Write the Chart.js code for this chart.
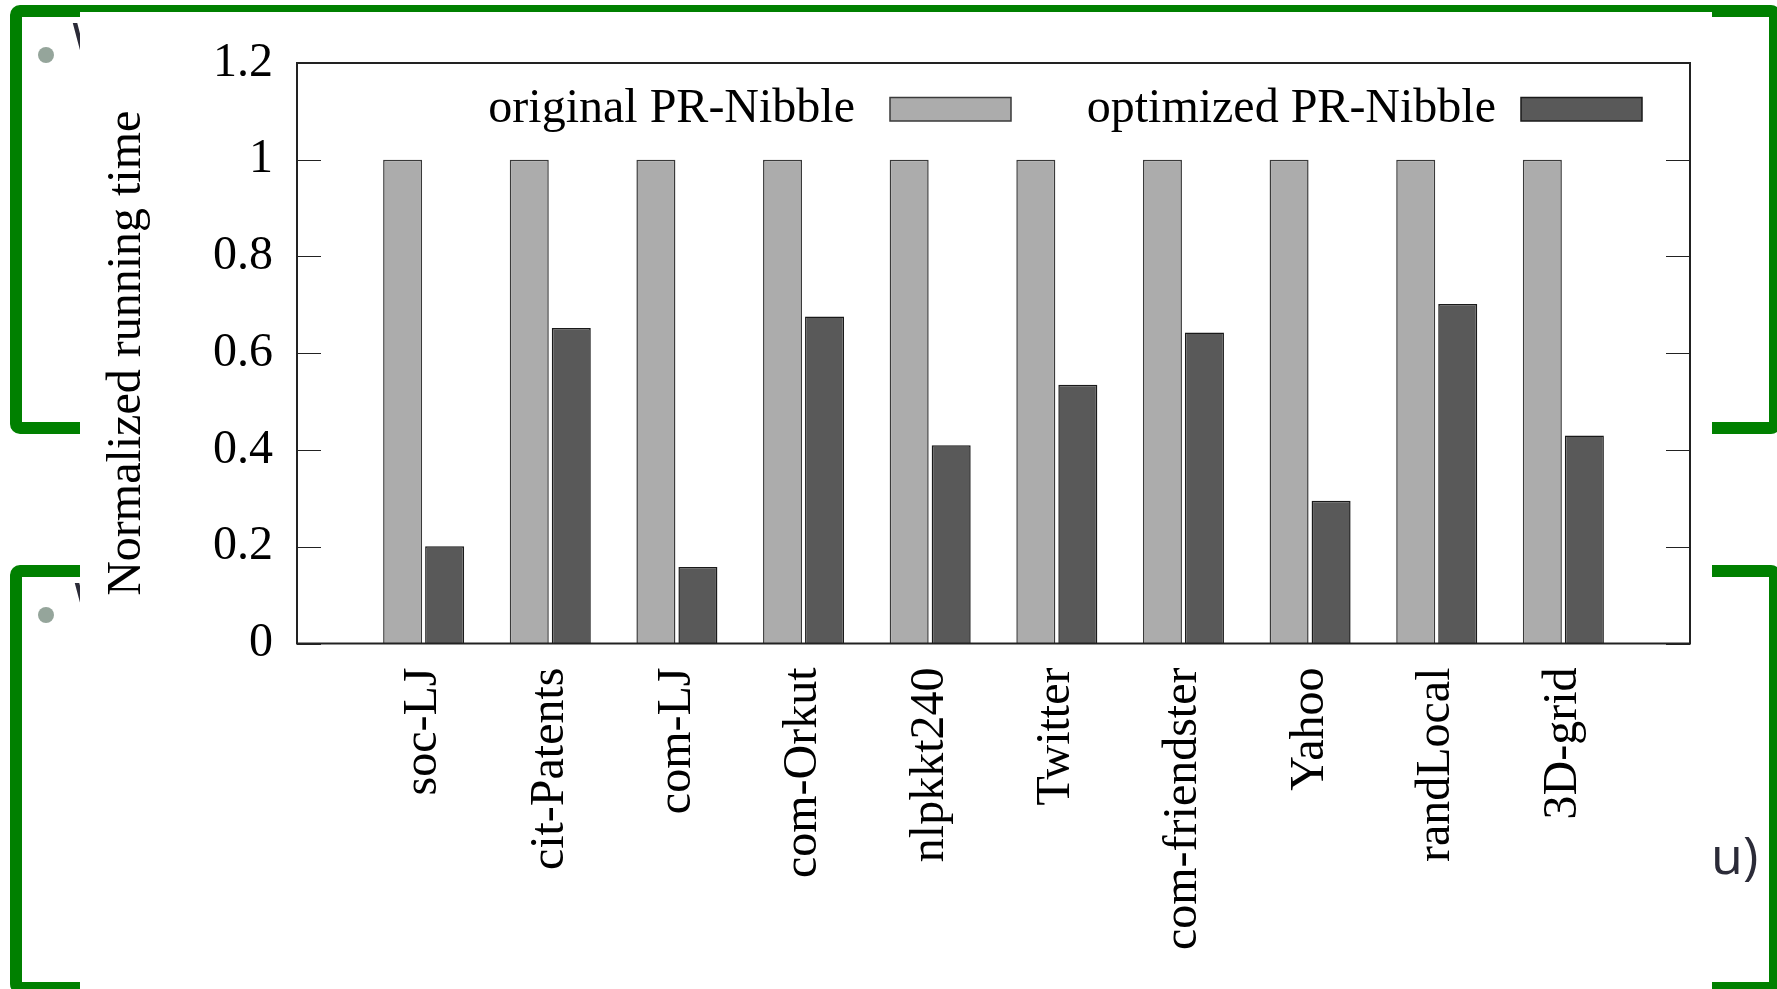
<!DOCTYPE html>
<html>
<head>
<meta charset="utf-8">
<script src="https://cdn.jsdelivr.net/npm/chart.js@4.4.1/dist/chart.umd.min.js"></script>
<style>
  body { margin: 0; width: 1777px; height: 989px; background: #fff; overflow: hidden; position: relative; }
  .frame { position: absolute; box-sizing: border-box; border: 12px solid #008000; border-radius: 10px; }
  .dot { position: absolute; width: 16px; height: 16px; border-radius: 50%; background: #95a59b; }
  .slide-text { position: absolute; font-family: "Open Sans", sans-serif; font-size: 52px; line-height: 1; color: #2b2b38; white-space: nowrap; }
  #plot { position: absolute; left: 80px; top: 12px; width: 1632px; height: 977px; background: #fff; }
</style>
</head>
<body>
<div class="frame" style="left:10px;top:5px;width:1771px;height:429px"></div>
<div class="frame" style="left:10px;top:565px;width:1771px;height:429px"></div>
<div class="dot" style="left:38px;top:47px"></div>
<div class="dot" style="left:38px;top:607px"></div>
<div class="slide-text" style="left:72px;top:14px">W</div>
<div class="slide-text" style="left:74px;top:574px">W</div>
<div class="slide-text" style="left:1711px;top:828px">u)</div>
<div id="plot"><canvas id="myChart" width="1632" height="977" style="width:1632px;height:977px"></canvas></div>
<script>
// graph datasets on the x axis
const graphs = ['soc-LJ', 'cit-Patents', 'com-LJ', 'com-Orkut', 'nlpkkt240',
  'Twitter', 'com-friendster', 'Yahoo', 'randLocal', '3D-grid'];

// normalized running times
const originalTimes = [1, 1, 1, 1, 1, 1, 1, 1, 1, 1];
const optimizedTimes = [0.201, 0.652, 0.158, 0.676, 0.410, 0.535, 0.643, 0.295, 0.702, 0.430];

const yTicks = [0, 0.2, 0.4, 0.6, 0.8, 1, 1.2];

const serif = '"Liberation Serif", "Times New Roman", serif';

function toPoints(values) {
  return values.map((v, i) => ({x: i, y: v}));
}

// gnuplot style border with inward ticks on both sides
const borderPlugin = {
  id: 'border',
  afterDatasetsDraw(chart) {
    const ctx = chart.ctx;
    const a = chart.chartArea;
    const y = chart.scales.y;
    ctx.save();
    ctx.strokeStyle = '#222';
    ctx.lineWidth = 1.2;
    yTicks.forEach(function (t) {
      const py = Math.round(y.getPixelForValue(t)) + 0.5;
      ctx.beginPath();
      ctx.moveTo(a.left, py);
      ctx.lineTo(a.left + 24, py);
      ctx.moveTo(a.right, py);
      ctx.lineTo(a.right - 24, py);
      ctx.stroke();
    });
    ctx.lineWidth = 2;
    ctx.strokeRect(a.left, a.top, a.right - a.left, a.bottom - a.top);
    ctx.restore();
  }
};

// key: text then sample box, top right inside the plot
const keyPlugin = {
  id: 'key',
  afterDraw(chart) {
    const ctx = chart.ctx;
    const a = chart.chartArea;
    const slots = [{boxRight: 679, gap: 35}, {boxRight: 48, gap: 25}];
    ctx.save();
    ctx.font = '48px ' + serif;
    ctx.textAlign = 'right';
    ctx.textBaseline = 'alphabetic';
    chart.data.datasets.forEach(function (ds, i) {
      const right = a.right - slots[i].boxRight;
      const w = 121;
      ctx.fillStyle = ds.backgroundColor;
      ctx.fillRect(right - w, a.top + 34.5, w, 23.5);
      ctx.strokeStyle = ds.borderColor;
      ctx.lineWidth = 1.5;
      ctx.strokeRect(right - w, a.top + 34.5, w, 23.5);
      ctx.fillStyle = '#000';
      ctx.fillText(ds.label, right - w - slots[i].gap, a.top + 58.5);
    });
    ctx.restore();
  }
};

const data = {
  datasets: [{
    label: 'original PR-Nibble',
    data: toPoints(originalTimes),
    backgroundColor: '#acacac',
    borderColor: '#3a3a3a',
    borderWidth: 1.5
  }, {
    label: 'optimized PR-Nibble',
    data: toPoints(optimizedTimes),
    backgroundColor: '#595959',
    borderColor: '#1a1a1a',
    borderWidth: 1.5
  }]
};

const config = {
  type: 'bar',
  data: data,
  options: {
    responsive: false,
    animation: false,
    devicePixelRatio: 1,
    categoryPercentage: 0.6635,
    barPercentage: 0.9286,
    layout: {
      padding: {top: 51, right: 22, left: 0, bottom: 0}
    },
    plugins: {
      legend: {display: false},
      tooltip: {enabled: false}
    },
    scales: {
      x: {
        type: 'linear',
        offset: false,
        min: -1,
        max: 10,
        grid: {display: false, drawTicks: false, tickLength: 0},
        border: {display: false},
        ticks: {
          stepSize: 1,
          autoSkip: false,
          minRotation: 90,
          maxRotation: 90,
          padding: 24,
          color: '#000',
          font: {family: serif, size: 48},
          callback: function (v) {
            return graphs[v] !== undefined ? graphs[v] : '';
          }
        },
        afterFit: function (scale) {
          scale.height = 345.5;
          scale.paddingLeft = 0;
          scale.paddingRight = 0;
        }
      },
      y: {
        min: 0,
        max: 1.2,
        grid: {display: false, drawTicks: false, tickLength: 0},
        border: {display: false},
        ticks: {
          stepSize: 0.2,
          padding: 24,
          color: '#000',
          font: {family: serif, size: 48},
          callback: function (v) {
            return String(Number(v.toFixed(1)));
          }
        },
        title: {
          display: true,
          text: 'Normalized running time',
          color: '#000',
          font: {family: serif, size: 48},
          padding: {top: 19, bottom: 0}
        },
        afterFit: function (scale) {
          scale.width = 217;
          scale.paddingTop = 0;
          scale.paddingBottom = 0;
        }
      }
    }
  },
  plugins: [borderPlugin, keyPlugin]
};

const myChart = new Chart(
  document.getElementById('myChart'),
  config
);
</script>
</body>
</html>
